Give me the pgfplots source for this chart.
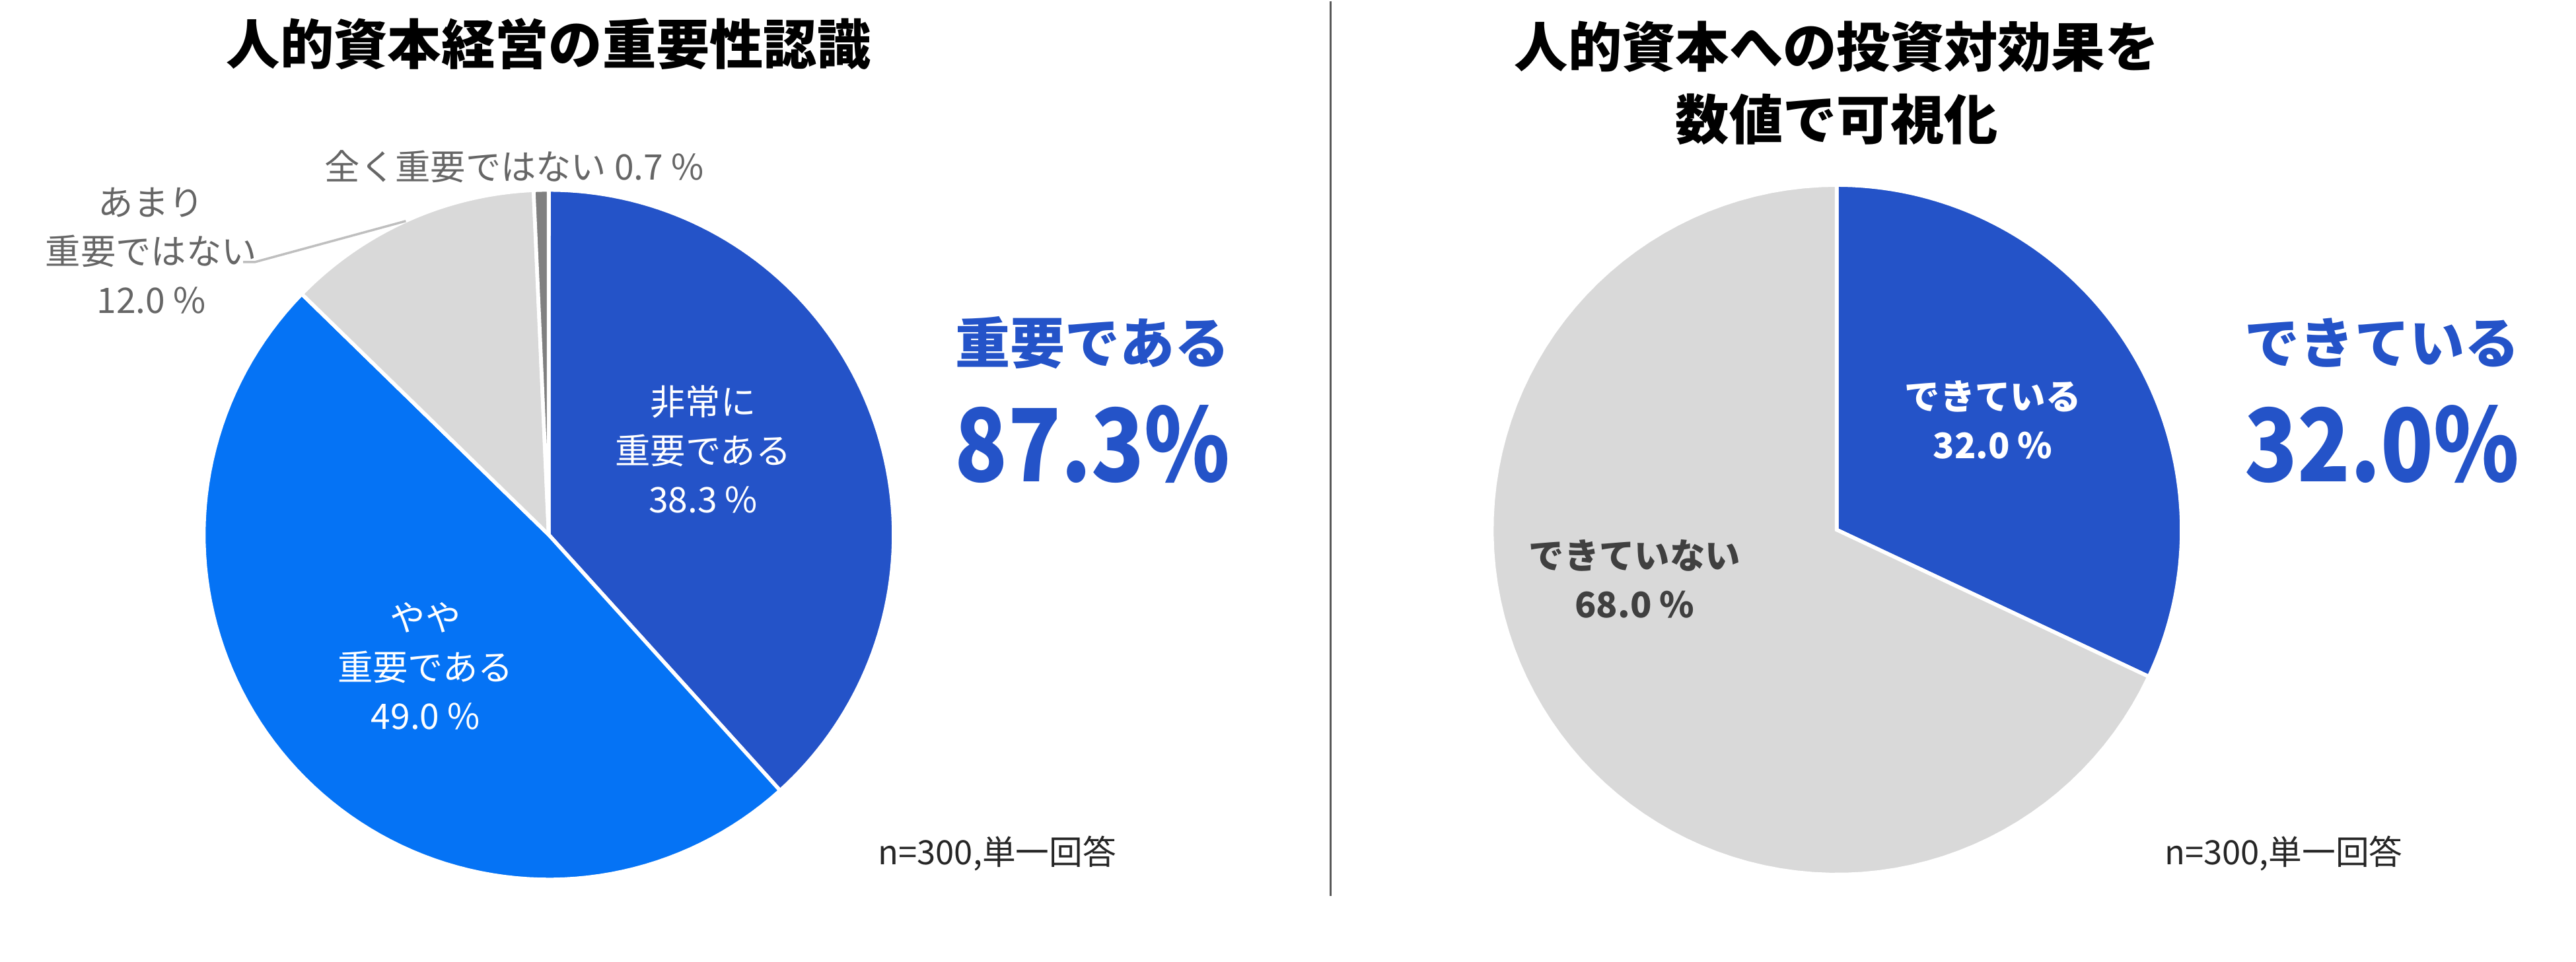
\documentclass[border=0pt]{standalone}
\usepackage{pgfplots}
\usepackage{pgfplotstable}
\pgfplotsset{compat=1.18}
\usepackage{fontspec}
\setmainfont{Noto Sans CJK JP}
\newfontfamily\numfont{Noto Sans CJK JP}[FakeStretch=0.86]

\definecolor{dblue}{HTML}{2453C8}
\definecolor{bblue}{HTML}{0573F5}
\definecolor{lgray}{HTML}{D9D9D9}
\definecolor{mgray}{HTML}{808080}
\definecolor{lblgray}{HTML}{666666}
\definecolor{dtext}{HTML}{404040}
\definecolor{leader}{HTML}{BFBFBF}
\definecolor{divider}{HTML}{595959}

% shares in percent, clockwise from 12 o'clock
\pgfplotstableread{
slice pct
1 38.3
2 49.0
3 12.0
4 0.7
}\leftdata
\pgfplotstableread{
slice pct
1 32.0
2 68.0
}\rightdata

\pgfplotstablegetelem{0}{pct}\of\leftdata \let\lA\pgfplotsretval
\pgfplotstablegetelem{1}{pct}\of\leftdata \let\lB\pgfplotsretval
\pgfplotstablegetelem{2}{pct}\of\leftdata \let\lC\pgfplotsretval
\pgfplotstablegetelem{3}{pct}\of\leftdata \let\lD\pgfplotsretval
\pgfplotstablegetelem{0}{pct}\of\rightdata \let\rA\pgfplotsretval
\pgfplotstablegetelem{1}{pct}\of\rightdata \let\rB\pgfplotsretval

\pgfmathsetmacro\La{90-3.6*\lA}
\pgfmathsetmacro\Lb{\La-3.6*\lB}
\pgfmathsetmacro\Lc{\Lb-3.6*\lC}
\pgfmathsetmacro\Ld{\Lc-3.6*\lD}
\pgfmathsetmacro\Ra{90-3.6*\rA}
\pgfmathsetmacro\Rb{\Ra-3.6*\rB}

\newcommand\ttl{\fontsize{9.3}{12.6}\selectfont\bfseries}
\newcommand\lbl{\fontsize{6.1}{8.5}\selectfont}

\begin{document}
\begin{tikzpicture}[every node/.append style={inner sep=0pt}]
\begin{axis}[
  scale only axis, width=15.68cm, height=5.85cm,
  xmin=0, xmax=1568, ymin=0, ymax=585, y dir=reverse,
  hide axis, clip=false,
  pie/.style={draw=white, line width=0.65pt, samples=90, variable=\t},
]
\path (axis cs:0,0) rectangle (axis cs:1568,585);

% left pie, centre (334,325), radius 210
\addplot[pie, fill=dblue, domain=\La:90] ({334+210*cos(t)}, {325-210*sin(t)}) -- (axis cs:334,325) -- cycle;
\addplot[pie, fill=bblue, domain=\Lb:\La] ({334+210*cos(t)}, {325-210*sin(t)}) -- (axis cs:334,325) -- cycle;
\addplot[pie, fill=lgray, domain=\Lc:\Lb] ({334+210*cos(t)}, {325-210*sin(t)}) -- (axis cs:334,325) -- cycle;
\addplot[pie, fill=mgray, domain=\Ld:\Lc, samples=10] ({334+210*cos(t)}, {325-210*sin(t)}) -- (axis cs:334,325) -- cycle;

% right pie, centre (1118,322), radius 210
\addplot[pie, fill=dblue, domain=\Ra:90] ({1118+210*cos(t)}, {322-210*sin(t)}) -- (axis cs:1118,322) -- cycle;
\addplot[pie, fill=lgray, domain=\Rb:\Ra] ({1118+210*cos(t)}, {322-210*sin(t)}) -- (axis cs:1118,322) -- cycle;

% divider and leader line
\addplot[divider, line width=0.35pt] coordinates {(810,0) (810,545)};
\addplot[leader, line width=0.4pt] coordinates {(148,159) (155,159) (247,134)};

% titles
\node[font=\ttl] at (axis cs:334,26) {人的資本経営の重要性認識};
\node[font=\ttl, align=center] at (axis cs:1118,50) {人的資本への投資対効果を\\数値で可視化};

% slice labels
\node[font=\lbl, white, align=center] at (axis cs:428,273) {非常に\\重要である\\38.3 \%};
\node[font=\lbl, white, align=center] at (axis cs:259,405) {やや\\重要である\\49.0 \%};
\node[font=\lbl, lblgray, align=center] at (axis cs:92,152) {あまり\\重要ではない\\12.0 \%};
\node[font=\lbl, lblgray] at (axis cs:313,101) {全く重要ではない 0.7 \%};
\node[font=\lbl\bfseries, white, align=center] at (axis cs:1213,255) {できている\\32.0 \%};
\node[font=\lbl\bfseries, dtext, align=center] at (axis cs:995,352) {できていない\\68.0 \%};

% highlights
\node[font=\fontsize{9.5}{11}\selectfont\bfseries, dblue] at (axis cs:665,208) {重要である};
\node[font=\numfont\fontsize{17.5}{20}\selectfont\bfseries, dblue] at (axis cs:665,270) {87.3\%};
\node[font=\fontsize{9.5}{11}\selectfont\bfseries, dblue] at (axis cs:1450,208) {できている};
\node[font=\numfont\fontsize{17.5}{20}\selectfont\bfseries, dblue] at (axis cs:1450,270) {32.0\%};

% notes
\node[font=\fontsize{5.8}{7}\selectfont, black!85] at (axis cs:607,519) {n=300,単一回答};
\node[font=\fontsize{5.8}{7}\selectfont, black!85] at (axis cs:1390,519) {n=300,単一回答};
\end{axis}
\end{tikzpicture}
\end{document}
